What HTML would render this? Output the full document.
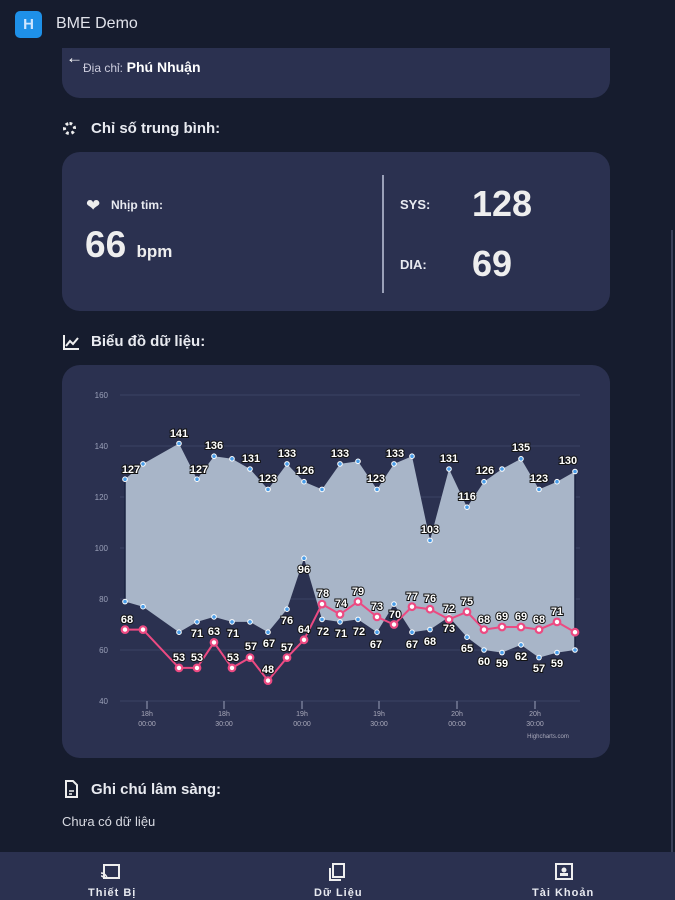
<!DOCTYPE html>
<html><head><meta charset="utf-8"><style>
*{margin:0;padding:0;box-sizing:border-box}
body{width:675px;height:900px;background:#161c2e;font-family:"Liberation Sans","Noto Sans CJK SC",sans-serif;color:#e8eaf0;position:relative;overflow:hidden}
.abs{position:absolute}
.card{position:absolute;left:62px;width:548px;background:#2b3150;border-radius:18px}
.t{font-weight:bold}
</style></head><body>
<div class="abs" style="left:0;top:0;width:675px;height:48px;background:#161c2e"></div>
<div class="abs" style="left:15px;top:11px;width:27px;height:27px;background:#1e90e8;border-radius:5px;color:#cfe6ff;font-size:15px;font-weight:bold;text-align:center;line-height:27px">H</div>
<div class="abs" style="left:56px;top:15px;font-size:16px;color:#e0e2ea">BME Demo</div>
<div class="card" style="top:30px;height:68px;z-index:-1"></div>
<div class="abs" style="left:66px;top:48px;font-size:17px;color:#fff">&#8592;</div>
<div class="abs" style="left:83px;top:59px;font-size:13px;color:#ccd"><span style="font-size:12px">Địa chỉ:</span> <b style="color:#fff;font-size:14px">Phú Nhuận</b></div>
<div class="abs" style="left:63px;top:122px;width:13px;height:13px;border:3px dotted #eee;border-radius:50%"></div>
<div class="abs t" style="left:91px;top:120px;font-size:15px">Chỉ số trung bình:</div>
<div class="card" style="top:152px;height:159px"></div>
<div class="abs" style="left:86px;top:196px;font-size:17px;color:#eee">&#10084;</div>
<div class="abs t" style="left:111px;top:198px;font-size:12px">Nhịp tim:</div>
<div class="abs t" style="left:85px;top:224px;font-size:37px;color:#eee">66 <span style="font-size:17px">bpm</span></div>
<div class="abs" style="left:382px;top:175px;width:2px;height:118px;background:#9aa0b8"></div>
<div class="abs t" style="left:400px;top:197px;font-size:13px">SYS:</div>
<div class="abs t" style="left:472px;top:183px;font-size:36px;color:#eee">128</div>
<div class="abs t" style="left:400px;top:257px;font-size:13px">DIA:</div>
<div class="abs t" style="left:472px;top:243px;font-size:36px;color:#eee">69</div>
<svg class="abs" style="left:62px;top:333px" width="18" height="18"><path d="M2 2V16H17" stroke="#eee" stroke-width="2" fill="none"/><path d="M4 13L8 8L11 11L16 5" stroke="#eee" stroke-width="2" fill="none"/></svg>
<div class="abs t" style="left:91px;top:333px;font-size:15px">Biểu đồ dữ liệu:</div>
<div class="card" style="top:365px;height:393px"></div>
<svg class="abs" style="left:0;top:0" width="675" height="900" font-family="Liberation Sans, sans-serif">
<g stroke="#3b4263" stroke-width="1">
<line x1="120" y1="395" x2="580" y2="395"/><line x1="120" y1="446" x2="580" y2="446"/><line x1="120" y1="497" x2="580" y2="497"/><line x1="120" y1="548" x2="580" y2="548"/><line x1="120" y1="599" x2="580" y2="599"/><line x1="120" y1="650" x2="580" y2="650"/><line x1="120" y1="701" x2="580" y2="701"/>
</g>
<g fill="#9aa0b8" font-size="8" text-anchor="end">
<text x="108" y="398">160</text><text x="108" y="449">140</text><text x="108" y="500">120</text><text x="108" y="551">100</text><text x="108" y="602">80</text><text x="108" y="653">60</text><text x="108" y="704">40</text>
</g>
<g stroke="#9aa0b8"><line x1="147" y1="701" x2="147" y2="709"/><line x1="224" y1="701" x2="224" y2="709"/><line x1="302" y1="701" x2="302" y2="709"/><line x1="379" y1="701" x2="379" y2="709"/><line x1="457" y1="701" x2="457" y2="709"/><line x1="535" y1="701" x2="535" y2="709"/></g>
<g fill="#aab" font-size="7" text-anchor="middle">
<text x="147" y="716">18h</text><text x="147" y="726">00:00</text>
<text x="224" y="716">18h</text><text x="224" y="726">30:00</text>
<text x="302" y="716">19h</text><text x="302" y="726">00:00</text>
<text x="379" y="716">19h</text><text x="379" y="726">30:00</text>
<text x="457" y="716">20h</text><text x="457" y="726">00:00</text>
<text x="535" y="716">20h</text><text x="535" y="726">30:00</text>
<text x="548" y="738" font-size="6">Highcharts.com</text>
</g>
<polygon fill="#a8b5c8" points="125,479.2 143,463.9 179,443.5 197,479.2 214,456.2 232,458.8 250,469 268,489.4 287,463.9 304,481.7 322,489.4 340,463.9 358,461.3 377,489.4 394,463.9 412,456.2 430,540.4 449,469 467,507.2 484,481.7 502,469 521,458.8 539,489.4 557,481.7 575,471.5 575,650 557,652.6 539,657.6 521,644.9 502,652.6 484,650 467,637.2 449,616.9 430,629.6 412,632.2 394,604.1 377,632.2 358,619.4 340,621.9 322,619.4 304,558.2 287,609.2 268,632.2 250,621.9 232,621.9 214,616.9 197,621.9 179,632.2 143,606.7 125,601.6"/>
<line x1="125" y1="479" x2="125" y2="602" stroke="#1b2240" stroke-width="1.5"/>
<line x1="575" y1="471" x2="575" y2="650" stroke="#1b2240" stroke-width="1.5"/>
<g fill="#4a9de8" stroke="#fff" stroke-width="1">
<circle cx="125" cy="479.2" r="2.3"/><circle cx="143" cy="463.9" r="2.3"/><circle cx="179" cy="443.5" r="2.3"/><circle cx="197" cy="479.2" r="2.3"/><circle cx="214" cy="456.2" r="2.3"/><circle cx="232" cy="458.8" r="2.3"/><circle cx="250" cy="469" r="2.3"/><circle cx="268" cy="489.4" r="2.3"/><circle cx="287" cy="463.9" r="2.3"/><circle cx="304" cy="481.7" r="2.3"/><circle cx="322" cy="489.4" r="2.3"/><circle cx="340" cy="463.9" r="2.3"/><circle cx="358" cy="461.3" r="2.3"/><circle cx="377" cy="489.4" r="2.3"/><circle cx="394" cy="463.9" r="2.3"/><circle cx="412" cy="456.2" r="2.3"/><circle cx="430" cy="540.4" r="2.3"/><circle cx="449" cy="469" r="2.3"/><circle cx="467" cy="507.2" r="2.3"/><circle cx="484" cy="481.7" r="2.3"/><circle cx="502" cy="469" r="2.3"/><circle cx="521" cy="458.8" r="2.3"/><circle cx="539" cy="489.4" r="2.3"/><circle cx="557" cy="481.7" r="2.3"/><circle cx="575" cy="471.5" r="2.3"/>
<circle cx="125" cy="601.6" r="2.3"/><circle cx="143" cy="606.7" r="2.3"/><circle cx="179" cy="632.2" r="2.3"/><circle cx="197" cy="621.9" r="2.3"/><circle cx="214" cy="616.9" r="2.3"/><circle cx="232" cy="621.9" r="2.3"/><circle cx="250" cy="621.9" r="2.3"/><circle cx="268" cy="632.2" r="2.3"/><circle cx="287" cy="609.2" r="2.3"/><circle cx="304" cy="558.2" r="2.3"/><circle cx="322" cy="619.4" r="2.3"/><circle cx="340" cy="621.9" r="2.3"/><circle cx="358" cy="619.4" r="2.3"/><circle cx="377" cy="632.2" r="2.3"/><circle cx="394" cy="604.1" r="2.3"/><circle cx="412" cy="632.2" r="2.3"/><circle cx="430" cy="629.6" r="2.3"/><circle cx="449" cy="616.9" r="2.3"/><circle cx="467" cy="637.2" r="2.3"/><circle cx="484" cy="650" r="2.3"/><circle cx="502" cy="652.6" r="2.3"/><circle cx="521" cy="644.9" r="2.3"/><circle cx="539" cy="657.6" r="2.3"/><circle cx="557" cy="652.6" r="2.3"/><circle cx="575" cy="650" r="2.3"/>
</g>
<polyline fill="none" stroke="#ec4a82" stroke-width="2" points="125,629.6 143,629.6 179,667.9 197,667.9 214,642.4 232,667.9 250,657.6 268,680.6 287,657.6 304,639.8 322,604.1 340,614.3 358,601.6 377,616.9 394,624.5 412,606.7 430,609.2 449,619.4 467,611.8 484,629.6 502,627 521,627 539,629.6 557,621.9 575,632.2"/>
<g fill="#fff" stroke="#ec4a82" stroke-width="2.2">
<circle cx="125" cy="629.6" r="3.3"/><circle cx="143" cy="629.6" r="3.3"/><circle cx="179" cy="667.9" r="3.3"/><circle cx="197" cy="667.9" r="3.3"/><circle cx="214" cy="642.4" r="3.3"/><circle cx="232" cy="667.9" r="3.3"/><circle cx="250" cy="657.6" r="3.3"/><circle cx="268" cy="680.6" r="3.3"/><circle cx="287" cy="657.6" r="3.3"/><circle cx="304" cy="639.8" r="3.3"/><circle cx="322" cy="604.1" r="3.3"/><circle cx="340" cy="614.3" r="3.3"/><circle cx="358" cy="601.6" r="3.3"/><circle cx="377" cy="616.9" r="3.3"/><circle cx="394" cy="624.5" r="3.3"/><circle cx="412" cy="606.7" r="3.3"/><circle cx="430" cy="609.2" r="3.3"/><circle cx="449" cy="619.4" r="3.3"/><circle cx="467" cy="611.8" r="3.3"/><circle cx="484" cy="629.6" r="3.3"/><circle cx="502" cy="627" r="3.3"/><circle cx="521" cy="627" r="3.3"/><circle cx="539" cy="629.6" r="3.3"/><circle cx="557" cy="621.9" r="3.3"/><circle cx="575" cy="632.2" r="3.3"/>
</g>
<g fill="#fff" stroke="#111" stroke-width="2" paint-order="stroke" font-size="11" font-weight="bold" text-anchor="middle">
<text x="131" y="473">127</text><text x="179" y="437">141</text><text x="199" y="473">127</text><text x="214" y="449">136</text><text x="251" y="462">131</text><text x="268" y="482">123</text><text x="287" y="457">133</text><text x="305" y="474">126</text><text x="340" y="457">133</text><text x="376" y="482">123</text><text x="395" y="457">133</text><text x="430" y="533">103</text><text x="449" y="462">131</text><text x="467" y="500">116</text><text x="485" y="474">126</text><text x="521" y="451">135</text><text x="539" y="482">123</text><text x="568" y="464">130</text>
<text x="197" y="637">71</text><text x="233" y="637">71</text><text x="269" y="647">67</text><text x="287" y="624">76</text><text x="304" y="573">96</text><text x="323" y="635">72</text><text x="341" y="637">71</text><text x="359" y="635">72</text><text x="376" y="648">67</text><text x="412" y="648">67</text><text x="430" y="645">68</text><text x="449" y="632">73</text><text x="467" y="652">65</text><text x="484" y="665">60</text><text x="502" y="667">59</text><text x="521" y="660">62</text><text x="539" y="672">57</text><text x="557" y="667">59</text>
<text x="127" y="623">68</text><text x="179" y="661">53</text><text x="197" y="661">53</text><text x="214" y="635">63</text><text x="233" y="661">53</text><text x="251" y="650">57</text><text x="268" y="673">48</text><text x="287" y="651">57</text><text x="304" y="633">64</text><text x="323" y="597">78</text><text x="341" y="607">74</text><text x="358" y="595">79</text><text x="377" y="610">73</text><text x="395" y="618">70</text><text x="412" y="600">77</text><text x="430" y="602">76</text><text x="449" y="612">72</text><text x="467" y="605">75</text><text x="484" y="623">68</text><text x="502" y="620">69</text><text x="521" y="620">69</text><text x="539" y="623">68</text><text x="557" y="615">71</text>
</g>
</svg>
<svg class="abs" style="left:64px;top:780px" width="14" height="18"><path d="M2 1H9L13 5V17H2Z" fill="none" stroke="#eee" stroke-width="2"/><path d="M5 11H10M5 14H8" stroke="#eee" stroke-width="1.5"/></svg>
<div class="abs t" style="left:91px;top:781px;font-size:15px">Ghi chú lâm sàng:</div>
<div class="abs" style="left:62px;top:814px;font-size:13px;color:#d8dae2">Chưa có dữ liệu</div>
<div class="abs" style="left:671px;top:230px;width:2px;height:622px;background:#3a4058"></div>
<div class="abs" style="left:0;top:852px;width:675px;height:48px;background:#2b3150"></div>
<svg class="abs" style="left:100px;top:863px" width="22" height="18"><rect x="4" y="2" width="15" height="13" fill="none" stroke="#eee" stroke-width="2"/><path d="M1 10A6 6 0 0 1 7 16M1 13A3 3 0 0 1 4 16" stroke="#eee" stroke-width="1.5" fill="none"/></svg>
<svg class="abs" style="left:327px;top:861px" width="22" height="22"><rect x="6" y="3" width="11" height="13" fill="none" stroke="#eee" stroke-width="2"/><path d="M3 7V19H14" stroke="#eee" stroke-width="2" fill="none"/></svg>
<svg class="abs" style="left:554px;top:862px" width="22" height="20"><rect x="2" y="2" width="16" height="15" fill="none" stroke="#eee" stroke-width="2"/><circle cx="10" cy="8" r="2.5" fill="#eee"/><rect x="6" y="11" width="8" height="3" fill="#eee"/></svg>
<div class="abs t" style="left:88px;top:887px;font-size:11px;letter-spacing:1px">Thiết Bị</div>
<div class="abs t" style="left:314px;top:887px;font-size:11px;letter-spacing:1px">Dữ Liệu</div>
<div class="abs t" style="left:532px;top:887px;font-size:11px;letter-spacing:1px">Tài Khoản</div>
</body></html>
